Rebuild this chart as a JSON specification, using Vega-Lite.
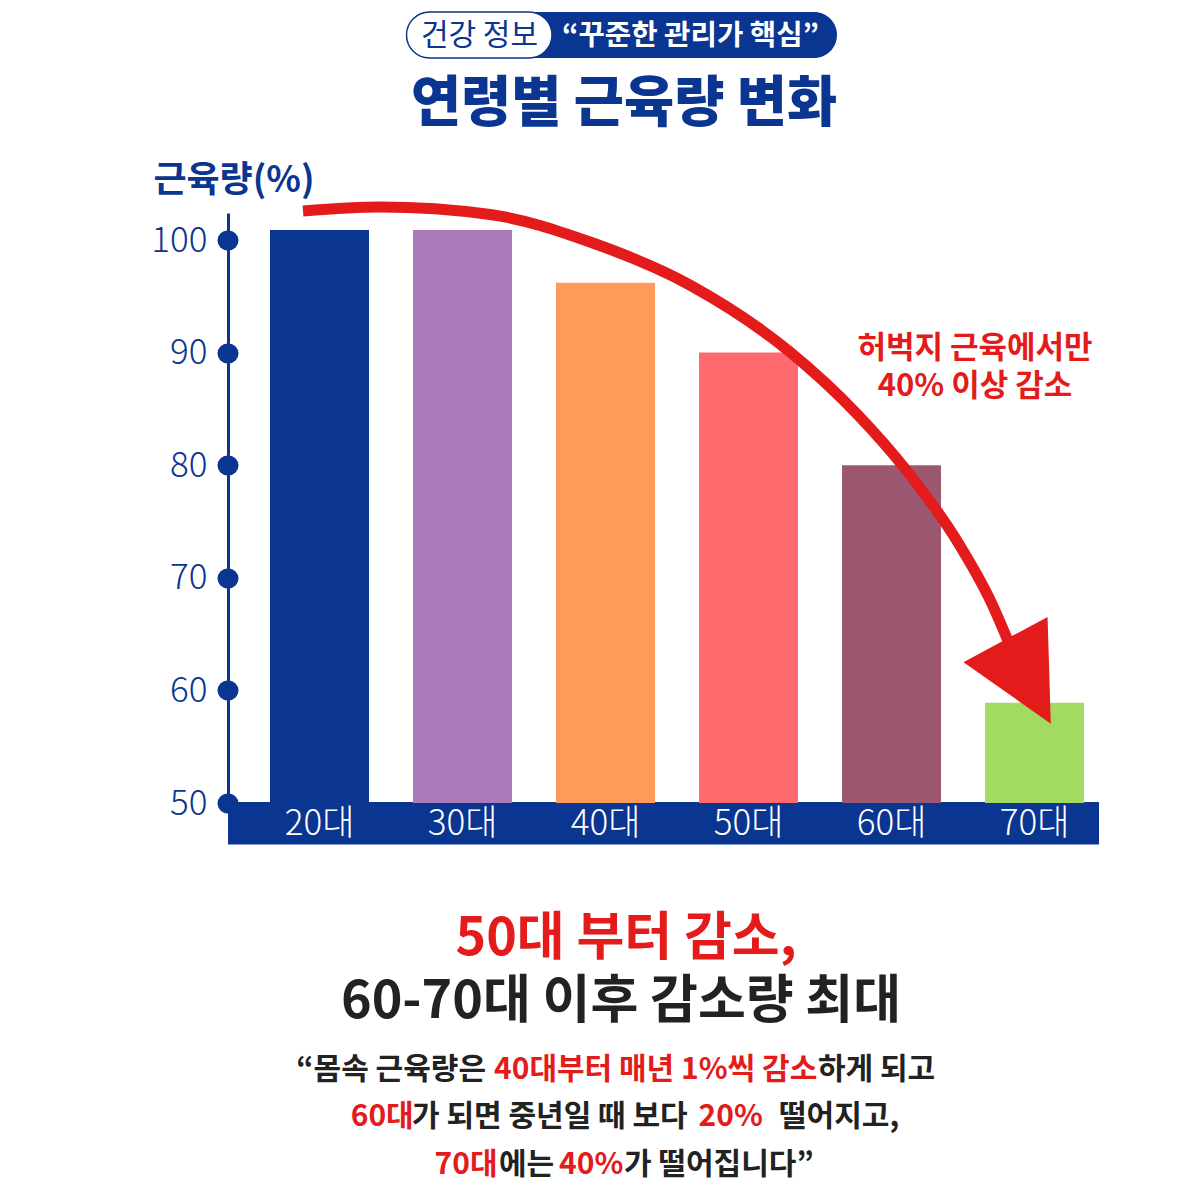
{
  "$schema": "https://vega.github.io/schema/vega-lite/v6.json",
  "width": 871,
  "height": 590,
  "padding": {"left": 228, "top": 213, "right": 101, "bottom": 397},
  "autosize": {"type": "none"},
  "background": "white",
  "config": {"view": {"stroke": null}, "font": "Noto Sans CJK KR", "text": {"font": "Noto Sans CJK KR"}},
  "datasets": {
    "bars": [
      {"age": "20대", "muscle": 100.9},
      {"age": "30대", "muscle": 100.9},
      {"age": "40대", "muscle": 96.2},
      {"age": "50대", "muscle": 90.0},
      {"age": "60대", "muscle": 80.0},
      {"age": "70대", "muscle": 58.9}
    ],
    "arrow": [
      {"x": -0.1154, "y": 102.58},
      {"x": 0.4231, "y": 102.93},
      {"x": 1.1923, "y": 102.27},
      {"x": 1.8916, "y": 99.82},
      {"x": 2.5909, "y": 96.0},
      {"x": 3.2902, "y": 90.05},
      {"x": 3.7587, "y": 84.55},
      {"x": 4.1084, "y": 79.48},
      {"x": 4.458, "y": 73.27},
      {"x": 4.7028, "y": 67.67},
      {"x": 4.8147, "y": 64.39}
    ]
  },
  "resolve": {"scale": {"x": "independent"}, "axis": {"y": "independent"}},
  "layer": [
    {
      "resolve": {"axis": {"y": "independent"}},
      "layer": [
        {
          "data": {"values": [{"part": "x axis band"}]},
          "mark": {"type": "rect", "color": "#0a3590"},
          "encoding": {
            "x": {"datum": -0.6399, "scale": {"domain": [-0.6399, 5.451], "nice": false, "zero": false}, "axis": null},
            "x2": {"datum": 5.451},
            "y": {"datum": 50.09, "scale": {"domain": [50, 102.4], "nice": false, "zero": false}, "axis": null},
            "y2": {"datum": 46.31}
          }
        },
        {
          "data": {"values": [{"part": "badge"}]},
          "mark": {"type": "rect", "color": "#0a3590", "cornerRadius": 23},
          "encoding": {
            "x": {"datum": 0.7727, "scale": {"domain": [-0.6399, 5.451], "nice": false, "zero": false}, "axis": null},
            "x2": {"datum": 3.6189},
            "y": {"datum": 120.25, "scale": {"domain": [50, 102.4], "nice": false, "zero": false}, "axis": null},
            "y2": {"datum": 116.16}
          }
        },
        {
          "data": {"values": [{"part": "badge tag"}]},
          "mark": {"type": "rect", "fill": "white", "stroke": "#0a3590", "strokeWidth": 1.5, "cornerRadius": 23},
          "encoding": {
            "x": {"datum": 0.6084, "scale": {"domain": [-0.6399, 5.451], "nice": false, "zero": false}, "axis": null},
            "x2": {"datum": 1.6259},
            "y": {"datum": 120.25, "scale": {"domain": [50, 102.4], "nice": false, "zero": false}, "axis": null},
            "y2": {"datum": 116.16}
          }
        }
      ]
    },
    {
      "data": {"name": "bars"},
      "resolve": {"axis": {"y": "independent"}},
      "encoding": {
        "x": {"field": "age", "type": "nominal", "sort": null, "scale": {"paddingInner": 0.3077, "paddingOuter": 0.1993, "align": 0.737}, "axis": null}
      },
      "layer": [
        {
          "mark": {"type": "bar"},
          "encoding": {
            "y": {
              "field": "muscle", "type": "quantitative",
              "scale": {"domain": [50, 102.4], "nice": false, "zero": false},
              "axis": {
                "values": [50, 60, 70, 80, 90, 100], "title": null, "grid": false,
                "domainColor": "#0a3590", "domainWidth": 3,
                "tickColor": "#0a3590", "tickWidth": 20, "tickSize": 1, "tickCap": "round",
                "labelColor": "#0a3590", "labelFontSize": 35, "labelFont": "Noto Sans CJK KR", "labelFontWeight": 300, "labelPadding": 20
              }
            },
            "y2": {"datum": 50},
            "color": {
              "field": "age", "type": "nominal", "legend": null,
              "scale": {"domain": ["20대", "30대", "40대", "50대", "60대", "70대"], "range": ["#0a3590", "#aa7bba", "#fe9a5a", "#ff6a6f", "#9b5870", "#a3db62"]}
            }
          }
        },
        {
          "mark": {"type": "text", "color": "white", "fontSize": 35, "fontWeight": 300, "baseline": "middle", "align": "center"},
          "encoding": {
            "y": {"datum": 48.13, "scale": {"domain": [50, 102.4], "nice": false, "zero": false}, "axis": null},
            "text": {"field": "age"}
          }
        }
      ]
    },
    {
      "resolve": {"axis": {"y": "independent"}},
      "layer": [
        {
          "data": {"name": "arrow"},
          "mark": {"type": "line", "color": "#e31b1b", "strokeWidth": 11, "interpolate": "monotone"},
          "encoding": {
            "x": {"field": "x", "type": "quantitative", "scale": {"domain": [-0.6399, 5.451], "nice": false, "zero": false}, "axis": null},
            "y": {"field": "y", "type": "quantitative", "scale": {"domain": [50, 102.4], "nice": false, "zero": false}, "axis": null}
          }
        },
        {
          "data": {"values": [{"part": "arrowhead"}]},
          "mark": {"type": "point", "shape": "M-1,-1L1,-1L0,1Z", "filled": true, "color": "#e31b1b", "opacity": 1, "size": 9120, "angle": 331.7, "strokeWidth": 0},
          "encoding": {
            "x": {"datum": 4.9556, "scale": {"domain": [-0.6399, 5.451], "nice": false, "zero": false}, "axis": null},
            "y": {"datum": 60.78, "scale": {"domain": [50, 102.4], "nice": false, "zero": false}, "axis": null}
          }
        },
        {"data": {"values": [{"label": "건강 정보"}]},
         "mark": {"type": "text", "fontSize": 30, "fontWeight": "normal", "color": "#0a3590", "align": "center", "baseline": "middle"},
         "encoding": {"text": {"field": "label"}, "x": {"datum": 1.1189, "scale": {"domain": [-0.6399, 5.451], "nice": false, "zero": false}, "axis": null}, "y": {"datum": 118.16, "scale": {"domain": [50, 102.4], "nice": false, "zero": false}, "axis": null}}},
        {"data": {"values": [{"label": "“꾸준한 관리가 핵심”"}]},
         "mark": {"type": "text", "fontSize": 28.7, "fontWeight": "bold", "color": "white", "align": "center", "baseline": "middle"},
         "encoding": {"text": {"field": "label"}, "x": {"datum": 2.5944, "scale": {"domain": [-0.6399, 5.451], "nice": false, "zero": false}, "axis": null}, "y": {"datum": 118.16, "scale": {"domain": [50, 102.4], "nice": false, "zero": false}, "axis": null}}},
        {"data": {"values": [{"label": "연령별 근육량 변화"}]},
         "mark": {"type": "text", "fontSize": 54.5, "fontWeight": 900, "color": "#0a3590", "align": "center", "baseline": "middle"},
         "encoding": {"text": {"field": "label"}, "x": {"datum": 2.1294, "scale": {"domain": [-0.6399, 5.451], "nice": false, "zero": false}, "axis": null}, "y": {"datum": 112.0, "scale": {"domain": [50, 102.4], "nice": false, "zero": false}, "axis": null}}},
        {"data": {"values": [{"label": "근육량(%)"}]},
         "mark": {"type": "text", "fontSize": 36, "fontWeight": "bold", "color": "#0a3590", "align": "center", "baseline": "middle"},
         "encoding": {"text": {"field": "label"}, "x": {"datum": -0.5979, "scale": {"domain": [-0.6399, 5.451], "nice": false, "zero": false}, "axis": null}, "y": {"datum": 105.24, "scale": {"domain": [50, 102.4], "nice": false, "zero": false}, "axis": null}}},
        {"data": {"values": [{"label": ["허벅지 근육에서만", "40% 이상 감소"]}]},
         "mark": {"type": "text", "fontSize": 31, "fontWeight": "bold", "color": "#e31b1b", "align": "center", "baseline": "middle", "lineHeight": 38},
         "encoding": {"text": {"field": "label"}, "x": {"datum": 4.5839, "scale": {"domain": [-0.6399, 5.451], "nice": false, "zero": false}, "axis": null}, "y": {"datum": 90.32, "scale": {"domain": [50, 102.4], "nice": false, "zero": false}, "axis": null}}},
        {"data": {"values": [{"label": "50대 부터 감소,"}]},
         "mark": {"type": "text", "fontSize": 52, "fontWeight": "bold", "color": "#e31b1b", "align": "center", "baseline": "middle"},
         "encoding": {"text": {"field": "label"}, "x": {"datum": 2.1434, "scale": {"domain": [-0.6399, 5.451], "nice": false, "zero": false}, "axis": null}, "y": {"datum": 37.92, "scale": {"domain": [50, 102.4], "nice": false, "zero": false}, "axis": null}}},
        {"data": {"values": [{"label": "60-70대 이후 감소량 최대"}]},
         "mark": {"type": "text", "fontSize": 52, "fontWeight": "bold", "color": "#222222", "align": "center", "baseline": "middle"},
         "encoding": {"text": {"field": "label"}, "x": {"datum": 2.1084, "scale": {"domain": [-0.6399, 5.451], "nice": false, "zero": false}, "axis": null}, "y": {"datum": 32.33, "scale": {"domain": [50, 102.4], "nice": false, "zero": false}, "axis": null}}},
        {"data": {"values": [{"label": "“몸속 근육량은"}]},
         "mark": {"type": "text", "fontSize": 30, "fontWeight": "bold", "color": "#222222", "align": "right", "baseline": "middle"},
         "encoding": {"text": {"field": "label"}, "x": {"datum": 1.1643, "scale": {"domain": [-0.6399, 5.451], "nice": false, "zero": false}, "axis": null}, "y": {"datum": 26.29, "scale": {"domain": [50, 102.4], "nice": false, "zero": false}, "axis": null}}},
        {"data": {"values": [{"label": "40대부터 매년 1%씩 감소"}]},
         "mark": {"type": "text", "fontSize": 30, "fontWeight": "bold", "color": "#e31b1b", "align": "left", "baseline": "middle"},
         "encoding": {"text": {"field": "label"}, "x": {"datum": 1.2203, "scale": {"domain": [-0.6399, 5.451], "nice": false, "zero": false}, "axis": null}, "y": {"datum": 26.29, "scale": {"domain": [50, 102.4], "nice": false, "zero": false}, "axis": null}}},
        {"data": {"values": [{"label": "하게 되고"}]},
         "mark": {"type": "text", "fontSize": 30, "fontWeight": "bold", "color": "#222222", "align": "left", "baseline": "middle"},
         "encoding": {"text": {"field": "label"}, "x": {"datum": 3.486, "scale": {"domain": [-0.6399, 5.451], "nice": false, "zero": false}, "axis": null}, "y": {"datum": 26.29, "scale": {"domain": [50, 102.4], "nice": false, "zero": false}, "axis": null}}},
        {"data": {"values": [{"label": "60대"}]},
         "mark": {"type": "text", "fontSize": 30, "fontWeight": "bold", "color": "#e31b1b", "align": "left", "baseline": "middle"},
         "encoding": {"text": {"field": "label"}, "x": {"datum": 0.2182, "scale": {"domain": [-0.6399, 5.451], "nice": false, "zero": false}, "axis": null}, "y": {"datum": 22.11, "scale": {"domain": [50, 102.4], "nice": false, "zero": false}, "axis": null}}},
        {"data": {"values": [{"label": "가 되면 중년일 때 보다"}]},
         "mark": {"type": "text", "fontSize": 30, "fontWeight": "bold", "color": "#222222", "align": "left", "baseline": "middle"},
         "encoding": {"text": {"field": "label"}, "x": {"datum": 0.6469, "scale": {"domain": [-0.6399, 5.451], "nice": false, "zero": false}, "axis": null}, "y": {"datum": 22.11, "scale": {"domain": [50, 102.4], "nice": false, "zero": false}, "axis": null}}},
        {"data": {"values": [{"label": "20%"}]},
         "mark": {"type": "text", "fontSize": 30, "fontWeight": "bold", "color": "#e31b1b", "align": "left", "baseline": "middle"},
         "encoding": {"text": {"field": "label"}, "x": {"datum": 2.6503, "scale": {"domain": [-0.6399, 5.451], "nice": false, "zero": false}, "axis": null}, "y": {"datum": 22.11, "scale": {"domain": [50, 102.4], "nice": false, "zero": false}, "axis": null}}},
        {"data": {"values": [{"label": "떨어지고,"}]},
         "mark": {"type": "text", "fontSize": 30, "fontWeight": "bold", "color": "#222222", "align": "left", "baseline": "middle"},
         "encoding": {"text": {"field": "label"}, "x": {"datum": 3.2133, "scale": {"domain": [-0.6399, 5.451], "nice": false, "zero": false}, "axis": null}, "y": {"datum": 22.11, "scale": {"domain": [50, 102.4], "nice": false, "zero": false}, "axis": null}}},
        {"data": {"values": [{"label": "70대"}]},
         "mark": {"type": "text", "fontSize": 30, "fontWeight": "bold", "color": "#e31b1b", "align": "left", "baseline": "middle"},
         "encoding": {"text": {"field": "label"}, "x": {"datum": 0.8049, "scale": {"domain": [-0.6399, 5.451], "nice": false, "zero": false}, "axis": null}, "y": {"datum": 17.85, "scale": {"domain": [50, 102.4], "nice": false, "zero": false}, "axis": null}}},
        {"data": {"values": [{"label": "에는"}]},
         "mark": {"type": "text", "fontSize": 30, "fontWeight": "bold", "color": "#222222", "align": "left", "baseline": "middle"},
         "encoding": {"text": {"field": "label"}, "x": {"datum": 1.2552, "scale": {"domain": [-0.6399, 5.451], "nice": false, "zero": false}, "axis": null}, "y": {"datum": 17.85, "scale": {"domain": [50, 102.4], "nice": false, "zero": false}, "axis": null}}},
        {"data": {"values": [{"label": "40%"}]},
         "mark": {"type": "text", "fontSize": 30, "fontWeight": "bold", "color": "#e31b1b", "align": "left", "baseline": "middle"},
         "encoding": {"text": {"field": "label"}, "x": {"datum": 1.6748, "scale": {"domain": [-0.6399, 5.451], "nice": false, "zero": false}, "axis": null}, "y": {"datum": 17.85, "scale": {"domain": [50, 102.4], "nice": false, "zero": false}, "axis": null}}},
        {"data": {"values": [{"label": "가 떨어집니다”"}]},
         "mark": {"type": "text", "fontSize": 30, "fontWeight": "bold", "color": "#222222", "align": "left", "baseline": "middle"},
         "encoding": {"text": {"field": "label"}, "x": {"datum": 2.1294, "scale": {"domain": [-0.6399, 5.451], "nice": false, "zero": false}, "axis": null}, "y": {"datum": 17.85, "scale": {"domain": [50, 102.4], "nice": false, "zero": false}, "axis": null}}}
      ]
    }
  ]
}
